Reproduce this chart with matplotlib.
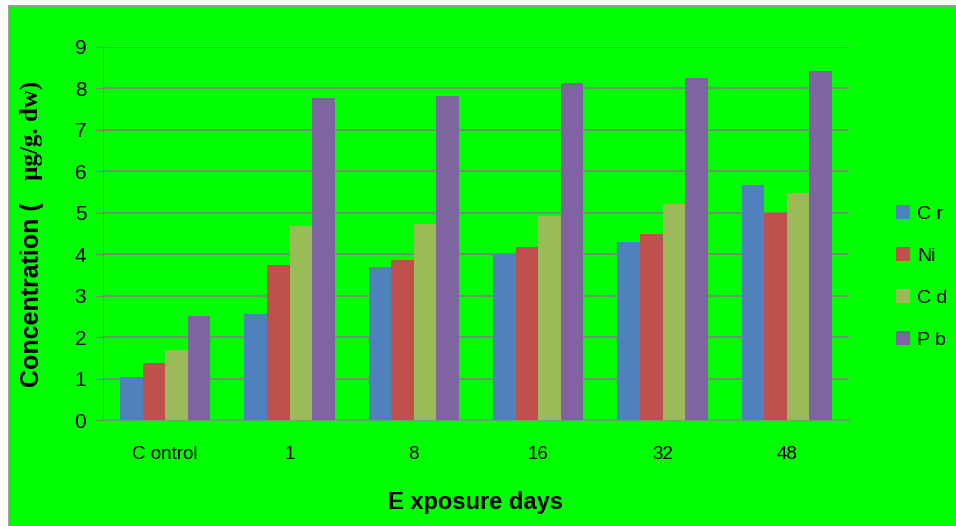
import numpy as np
import matplotlib
matplotlib.use("Agg")
import matplotlib.pyplot as plt
from matplotlib import font_manager
from matplotlib.patches import Rectangle

# data
days = ["C ontrol", "1", "8", "16", "32", "48"]
metals = ["C r", "Ni", "C d", "P b"]
cr = [1.04, 2.56, 3.69, 4.01, 4.29, 5.66]
ni = [1.38, 3.73, 3.86, 4.17, 4.49, 5.00]
cd = [1.69, 4.68, 4.72, 4.93, 5.22, 5.47]
pb = [2.52, 7.77, 7.81, 8.13, 8.25, 8.42]
colores = ["#4F81BD", "#C0504D", "#9BBB59", "#8064A2"]
yticks = list(range(0, 10))

names = {f.name for f in font_manager.fontManager.ttflist}
narrow = "Liberation Sans Narrow" if "Liberation Sans Narrow" in names else "Liberation Sans"
verde = "#00FF00"

fig = plt.figure(figsize=(9.56, 5.26), dpi=100, facecolor="white")
W, H = 956, 526
# green chart area with gray frame
fig.patches.append(Rectangle((8.5 / W, -0.01), 1.0, (H - 5.5) / H + 0.01,
                             transform=fig.transFigure, facecolor=verde,
                             edgecolor="#909090", linewidth=1.2, zorder=-5))

ax = fig.add_axes([103 / W, (H - 420) / H, (849 - 103) / W, (420 - 47) / H])
ax.set_facecolor(verde)

x = np.arange(len(days))
w = 1 / 5.5
series = [cr, ni, cd, pb]
for i, (vals, lab, col) in enumerate(zip(series, metals, colores)):
    ax.bar(x + (i - 1.5) * w, vals, width=w, color=col, label=lab, zorder=3)

ax.set_xlim(-0.5, len(days) - 0.5)
ax.set_ylim(0, 9)
ax.set_yticks(yticks)
ax.set_yticklabels([str(t) for t in yticks], fontfamily=narrow, fontsize=15)
ax.set_xticks(x)
ax.set_xticklabels(days, fontfamily=narrow, fontsize=13.5)
ax.tick_params(axis="y", length=6, color="#808080", pad=6)
ax.tick_params(axis="x", length=0, pad=19)
ax.grid(axis="y", color="#808080", linewidth=1.2, zorder=1)
for s in ["top", "right"]:
    ax.spines[s].set_visible(False)
ax.spines["left"].set_color("#808080")
ax.spines["bottom"].set_color("#70A070")
ax.spines["bottom"].set_linewidth(1.5)

leg = ax.legend(loc="center left", bbox_to_anchor=(0.065, 0.383),
                bbox_transform=ax.transAxes, frameon=False,
                prop={"family": narrow, "size": 14}, handlelength=0.7,
                handleheight=0.7, handletextpad=0.4, labelspacing=1.25,
                borderpad=0, borderaxespad=0)
leg.set_bbox_to_anchor((1.063, 0.383), transform=ax.transAxes)

fig.text(475 / W, 1 - 502 / H, "E xposure days", ha="center", va="center",
         fontfamily=narrow, fontweight="bold", fontsize=17)
fig.text(32 / W, 1 - 295 / H, "Concentration (", rotation=90, ha="center",
         va="center", fontfamily=narrow, fontweight="bold", fontsize=18)
fig.text(31 / W, 1 - 130 / H, "\u00b5g/g. dw)", rotation=90, ha="center",
         va="center", fontfamily="Liberation Serif", fontweight="bold", fontsize=18)

fig.savefig("out.png", dpi=100, facecolor=fig.get_facecolor())
